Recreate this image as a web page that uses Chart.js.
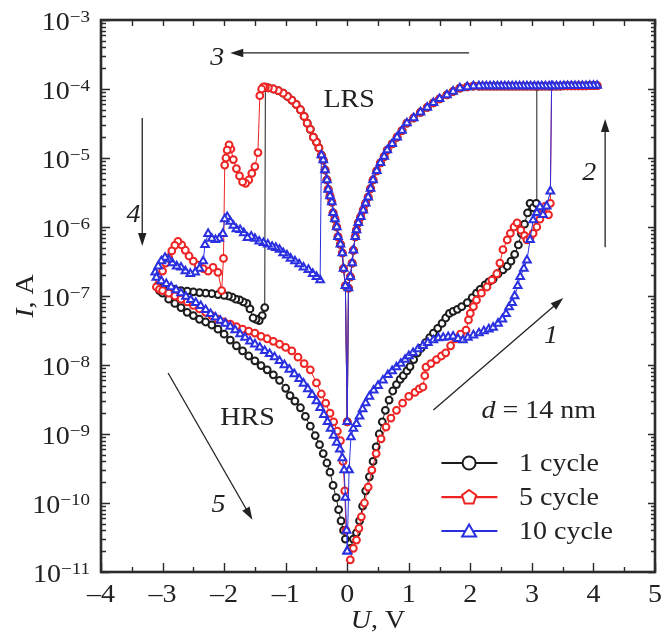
<!DOCTYPE html>
<html><head><meta charset="utf-8">
<script src="https://cdn.jsdelivr.net/npm/chart.js@4.4.1/dist/chart.umd.min.js"></script>
<style>html,body{margin:0;padding:0;background:#fff}canvas{display:block}
.pre{font-family:'Liberation Serif';position:absolute;left:-999px;top:0}</style>
</head><body>
<span class="pre">10 <i>I</i></span>
<canvas id="c" width="672" height="635"></canvas>
<script>
// ---------- data (U in V, I in A) ----------
const seriesNames = ['1 cycle', '5 cycle', '10 cycle'];
const xTickValues = [-4, -3, -2, -1, 0, 1, 2, 3, 4, 5];
const yTickExponents = [-3, -4, -5, -6, -7, -8, -9, -10, -11];

// forward HRS sweeps 0 -> set
const set1 = [[0.05,2.2e-11],[0.1,3e-11],[0.15,3.7e-11],[0.2,5.5e-11],[0.25,9e-11],[0.3,1.5e-10],[0.36,2.4e-10],[0.42,4e-10],[0.47,6.5e-10],[0.52,1e-9],[0.57,1.5e-9],[0.62,2.2e-9],[0.68,3.1e-9],[0.74,4.2e-9],[0.8,5.2e-9],[0.86,6.2e-9],[0.91,7e-9],[0.97,8.2e-9],[1.02,9.5e-9],[1.08,1.2e-8],[1.14,1.5e-8],[1.2,1.75e-8],[1.27,2.1e-8],[1.34,2.5e-8],[1.4,2.9e-8],[1.47,3.4e-8],[1.54,4e-8],[1.6,4.8e-8],[1.66,5.6e-8],[1.72,6e-8],[1.79,6.4e-8],[1.86,7e-8],[1.95,8e-8],[2.03,9.5e-8],[2.1,1.1e-7],[2.16,1.25e-7],[2.24,1.45e-7],[2.3,1.6e-7],[2.37,1.75e-7],[2.45,2.1e-7],[2.53,2.4e-7],[2.6,2.7e-7],[2.66,3.2e-7],[2.72,4e-7],[2.78,5.5e-7],[2.83,8e-7],[2.88,1.1e-6],[2.93,1.6e-6],[2.97,2.2e-6],[3.02,1.9e-6],[3.07,2.2e-6],[3.08,1.1e-4]];
const set5 = [[0.05,1.5e-11],[0.1,2.2e-11],[0.15,2.9e-11],[0.19,4.3e-11],[0.23,6.3e-11],[0.28,1e-10],[0.34,1.7e-10],[0.4,3e-10],[0.47,5.2e-10],[0.55,8.5e-10],[0.63,1.26e-9],[0.71,1.7e-9],[0.8,2.2e-9],[0.9,2.8e-9],[1.0,3.5e-9],[1.1,4e-9],[1.17,4.5e-9],[1.23,4.8e-9],[1.26,7e-9],[1.28,9.3e-9],[1.36,1.05e-8],[1.45,1.2e-8],[1.53,1.35e-8],[1.6,1.5e-8],[1.68,1.9e-8],[1.76,2.4e-8],[1.84,2.8e-8],[1.93,3.2e-8],[1.97,4.5e-8],[2.0,5.6e-8],[2.05,7e-8],[2.1,8.7e-8],[2.18,1.1e-7],[2.27,1.35e-7],[2.35,1.7e-7],[2.43,2.1e-7],[2.48,3e-7],[2.53,4.7e-7],[2.6,6.5e-7],[2.65,8.1e-7],[2.71,1e-6],[2.76,1.15e-6],[2.82,9e-7],[2.88,7.5e-7],[2.92,6.5e-7],[2.97,7e-7],[3.02,8.1e-7],[3.08,1e-6],[3.13,1.3e-6],[3.18,1.6e-6],[3.22,2e-6],[3.27,1.5e-6],[3.3,2.2e-6],[3.32,1.1e-4]];
const set10 = [[0.0,2e-11],[0.03,3e-10],[0.06,9e-10],[0.1,1.2e-9],[0.15,1.4e-9],[0.2,1.8e-9],[0.25,2.3e-9],[0.3,2.8e-9],[0.36,3.5e-9],[0.43,4.3e-9],[0.5,5e-9],[0.58,6e-9],[0.66,7.2e-9],[0.73,8.2e-9],[0.8,9.3e-9],[0.87,1.05e-8],[0.94,1.2e-8],[1.0,1.35e-8],[1.07,1.5e-8],[1.15,1.7e-8],[1.23,1.9e-8],[1.31,2.1e-8],[1.4,2.3e-8],[1.48,2.45e-8],[1.56,2.5e-8],[1.64,2.55e-8],[1.72,2.6e-8],[1.8,2.4e-8],[1.88,2.3e-8],[1.96,2.5e-8],[2.05,2.7e-8],[2.14,2.9e-8],[2.22,3.1e-8],[2.3,3.3e-8],[2.37,3.5e-8],[2.45,4e-8],[2.52,4.6e-8],[2.58,5.5e-8],[2.63,6.9e-8],[2.68,8e-8],[2.72,1e-7],[2.77,1.4e-7],[2.81,1.9e-7],[2.87,2.5e-7],[2.92,3.3e-7],[2.97,6.5e-7],[3.02,1.26e-6],[3.08,1.6e-6],[3.13,1.95e-6],[3.18,1.5e-6],[3.24,2e-6],[3.3,3.3e-6],[3.32,1.1e-4]];

// LRS (shared by the cycles, curves coincide)
const lrsPlateau = [[4.06,1.12e-4],[4.0,1.12e-4],[3.94,1.12e-4],[3.88,1.11e-4],[3.82,1.11e-4],[3.76,1.11e-4],[3.7,1.11e-4],[3.64,1.11e-4],[3.58,1.11e-4],[3.52,1.11e-4],[3.46,1.1e-4],[3.4,1.1e-4],[3.34,1.1e-4],[3.28,1.1e-4],[3.22,1.1e-4],[3.16,1.1e-4],[3.1,1.1e-4],[3.04,1.1e-4],[2.98,1.1e-4],[2.92,1.1e-4],[2.86,1.1e-4],[2.8,1.1e-4],[2.74,1.1e-4],[2.68,1.1e-4],[2.62,1.1e-4],[2.56,1.1e-4],[2.5,1.1e-4],[2.44,1.1e-4],[2.38,1.1e-4],[2.32,1.1e-4],[2.26,1.1e-4],[2.2,1.1e-4],[2.14,1.1e-4]];
const lrsPositive = [[2.05,1.1e-4],[1.95,1.07e-4],[1.83,1.03e-4],[1.72,9.2e-5],[1.62,8.2e-5],[1.5,7.2e-5],[1.4,6.3e-5],[1.3,5.4e-5],[1.19,4.6e-5],[1.08,3.8e-5],[0.97,3.2e-5],[0.89,2.5e-5],[0.81,2e-5],[0.73,1.6e-5],[0.65,1.3e-5],[0.6,1.05e-5],[0.54,8.5e-6],[0.48,6.5e-6],[0.42,4.8e-6],[0.38,3.6e-6],[0.34,2.7e-6],[0.3,2.2e-6],[0.26,1.75e-6],[0.22,1.4e-6],[0.18,1.15e-6],[0.15,9e-7],[0.13,7.2e-7],[0.1,4.6e-7],[0.08,3e-7],[0.05,1.9e-7],[0.02,1.3e-7],[0.0,1.5e-9]];
const lrsNegative = [[-0.03,1.4e-7],[-0.06,2.5e-7],[-0.08,4.2e-7],[-0.11,5.6e-7],[-0.15,7.2e-7],[-0.17,1e-6],[-0.2,1.3e-6],[-0.23,1.6e-6],[-0.25,2.3e-6],[-0.28,2.8e-6],[-0.31,3.5e-6],[-0.33,4.8e-6],[-0.36,6.7e-6],[-0.39,9.3e-6],[-0.42,1.1e-5]];
const lrsNegativeHigh = [[-0.46,1.4e-5],[-0.5,1.7e-5],[-0.55,2e-5],[-0.6,2.6e-5],[-0.65,3.2e-5],[-0.7,4e-5],[-0.76,5e-5],[-0.83,6e-5],[-0.9,6.9e-5],[-0.97,7.8e-5],[-1.04,8.7e-5],[-1.12,9.5e-5],[-1.2,1e-4],[-1.28,1.04e-4]];

// reset and HRS outward sweeps
const reset1 = [[-1.33,1.06e-4],[-1.34,6.8e-8],[-1.38,5.2e-8],[-1.43,4.4e-8],[-1.48,4.6e-8],[-1.53,4.8e-8],[-1.58,6.5e-8],[-1.63,7.8e-8],[-1.69,8.2e-8],[-1.75,8.8e-8],[-1.81,9e-8],[-1.87,9.6e-8],[-1.93,1e-7],[-2.0,1.02e-7],[-2.1,1.05e-7],[-2.2,1.08e-7],[-2.3,1.1e-7],[-2.4,1.12e-7],[-2.5,1.15e-7],[-2.6,1.18e-7],[-2.7,1.2e-7],[-2.8,1.25e-7],[-2.9,1.3e-7],[-3.0,1.35e-7],[-3.08,1.4e-7]];
const reset5 = [[-1.33,1.06e-4],[-1.36,1.07e-4],[-1.39,1.0e-4],[-1.42,8e-5],[-1.45,1.2e-5],[-1.5,7.5e-6],[-1.55,6e-6],[-1.6,4.8e-6],[-1.65,4.3e-6],[-1.7,4.5e-6],[-1.75,5.5e-6],[-1.8,7e-6],[-1.85,9.5e-6],[-1.89,1.35e-5],[-1.92,1.55e-5],[-1.95,1.3e-5],[-1.97,1e-5],[-1.99,7.9e-6],[-2.01,3.5e-7],[-2.04,1.2e-7],[-2.1,2.2e-7],[-2.18,2.6e-7],[-2.26,2.3e-7],[-2.34,2.5e-7],[-2.42,2.8e-7],[-2.5,3.2e-7],[-2.57,3.8e-7],[-2.63,4.6e-7],[-2.69,5.5e-7],[-2.75,6.2e-7],[-2.8,5.4e-7],[-2.85,4.5e-7],[-2.9,3.6e-7],[-2.95,3e-7],[-3.0,2.3e-7],[-3.05,1.7e-7],[-3.1,1.35e-7]];
const reset10 = [[-0.44,1.7e-7],[-0.5,1.9e-7],[-0.56,2.1e-7],[-0.63,2.4e-7],[-0.71,2.6e-7],[-0.78,2.9e-7],[-0.85,3.2e-7],[-0.92,3.5e-7],[-0.98,3.9e-7],[-1.04,4.2e-7],[-1.1,4.7e-7],[-1.16,5e-7],[-1.22,5.2e-7],[-1.29,5.6e-7],[-1.36,5.9e-7],[-1.43,6.2e-7],[-1.5,6.8e-7],[-1.56,7.3e-7],[-1.62,7e-7],[-1.68,8.2e-7],[-1.74,9.1e-7],[-1.8,9.3e-7],[-1.85,1.05e-6],[-1.9,1.2e-6],[-1.95,1.4e-6],[-1.99,1.3e-6],[-2.02,8e-7],[-2.08,6.8e-7],[-2.14,6.5e-7],[-2.2,6.8e-7],[-2.26,8e-7],[-2.31,5.5e-7],[-2.34,3.2e-7],[-2.4,2.5e-7],[-2.47,2.2e-7],[-2.55,2.1e-7],[-2.63,2.3e-7],[-2.7,2.6e-7],[-2.77,2.7e-7],[-2.84,3e-7],[-2.9,3.4e-7],[-2.96,3.6e-7],[-3.02,3.2e-7],[-3.07,2.7e-7],[-3.12,2.2e-7]];

// HRS return sweeps -3 -> 0
const return1 = [[-3.05,1.2e-7],[-3.0,1.1e-7],[-2.9,9e-8],[-2.8,7.8e-8],[-2.7,6.8e-8],[-2.6,5.8e-8],[-2.5,5.2e-8],[-2.4,4.6e-8],[-2.3,4.2e-8],[-2.2,3.8e-8],[-2.1,3.3e-8],[-2.0,2.8e-8],[-1.9,2.3e-8],[-1.8,1.9e-8],[-1.7,1.6e-8],[-1.6,1.35e-8],[-1.5,1.15e-8],[-1.4,9.8e-9],[-1.3,8.5e-9],[-1.2,7.2e-9],[-1.1,6e-9],[-1.0,4.6e-9],[-0.93,3.6e-9],[-0.85,3e-9],[-0.76,2.4e-9],[-0.68,1.8e-9],[-0.6,1.3e-9],[-0.52,9.5e-10],[-0.45,7e-10],[-0.39,5.2e-10],[-0.33,3.8e-10],[-0.28,2.8e-10],[-0.23,1.8e-10],[-0.18,1.2e-10],[-0.14,8e-11],[-0.1,5.5e-11],[-0.06,4e-11],[-0.03,3e-11]];
const return5 = [[-3.05,1.25e-7],[-3.0,1.2e-7],[-2.9,1.1e-7],[-2.8,1.0e-7],[-2.7,9e-8],[-2.6,8.2e-8],[-2.5,7.3e-8],[-2.4,6.5e-8],[-2.3,5.8e-8],[-2.2,5.2e-8],[-2.1,4.6e-8],[-2.0,4.2e-8],[-1.9,3.9e-8],[-1.8,3.6e-8],[-1.7,3.3e-8],[-1.6,3.1e-8],[-1.5,2.9e-8],[-1.4,2.6e-8],[-1.3,2.4e-8],[-1.2,2.2e-8],[-1.1,2e-8],[-1.0,1.8e-8],[-0.9,1.6e-8],[-0.8,1.3e-8],[-0.7,1.05e-8],[-0.6,8.5e-9],[-0.5,5.5e-9],[-0.42,3.8e-9],[-0.35,2.8e-9],[-0.28,2e-9],[-0.22,1.5e-9],[-0.16,1.1e-9],[-0.11,8e-10],[-0.07,4e-10],[-0.04,1.5e-10],[-0.02,4e-11]];
const return10 = [[-3.1,1.85e-7],[-3.02,1.65e-7],[-2.94,1.5e-7],[-2.86,1.35e-7],[-2.78,1.22e-7],[-2.7,1.1e-7],[-2.62,9.8e-8],[-2.54,8.8e-8],[-2.46,8e-8],[-2.38,7.2e-8],[-2.3,6.3e-8],[-2.22,5.5e-8],[-2.14,4.9e-8],[-2.06,4.4e-8],[-1.98,4e-8],[-1.9,3.6e-8],[-1.82,3.2e-8],[-1.74,2.8e-8],[-1.66,2.5e-8],[-1.58,2.2e-8],[-1.5,2e-8],[-1.42,1.8e-8],[-1.34,1.6e-8],[-1.26,1.45e-8],[-1.18,1.3e-8],[-1.1,1.15e-8],[-1.02,1e-8],[-0.94,8.6e-9],[-0.86,7.4e-9],[-0.78,6.3e-9],[-0.71,5.4e-9],[-0.64,4.5e-9],[-0.57,3.7e-9],[-0.5,3e-9],[-0.44,2.4e-9],[-0.38,1.9e-9],[-0.32,1.5e-9],[-0.27,1.2e-9],[-0.22,9.5e-10],[-0.17,7.5e-10],[-0.12,6e-10],[-0.08,4.5e-10],[-0.05,3e-10],[-0.03,1.2e-10],[-0.01,4e-11],[0.0,2e-11]];

const cycle1 = [...set1, ...lrsPlateau, ...lrsPositive, ...lrsNegative, ...lrsNegativeHigh, ...reset1, ...return1];
const cycle5 = [...set5, ...lrsPlateau, ...lrsPositive, ...lrsNegative, ...lrsNegativeHigh, ...reset5, ...return5];
const cycle10 = [...set10, ...lrsPlateau, ...lrsPositive, ...lrsNegative, ...reset10, ...return10];

// ---------- styling ----------
const COLORS = ['#1c1c1c', '#ee2424', '#2a30e0'];
const SHAPES = ['circle', 'pentagon', 'triangle'];
const SERIF = '"Liberation Serif", serif';
const SX = 1.12; // horizontal stretch of the original typesetting
const TXT = '#222';

const toXY = arr => arr.map(([x, y]) => ({ x, y }));

function ds(label, arr, color, style, order) {
  return {
    label, data: toXY(arr), showLine: true, order,
    borderColor: color, borderWidth: 1,
    pointStyle: style, pointRadius: style === 'triangle' ? 4.4 : 3.4,
    pointBorderWidth: 2, pointBorderColor: color, pointBackgroundColor: '#fff',
    pointHoverRadius: 3.4
  };
}

function drawRuns(ctx, parts, x, y, align) {
  let total = 0;
  parts.forEach(p => { ctx.font = p[1]; total += ctx.measureText(p[0]).width * SX; });
  let cx = align === 'center' ? x - total / 2 : align === 'right' ? x - total : x;
  parts.forEach(p => {
    ctx.font = p[1];
    const w = ctx.measureText(p[0]).width * SX;
    ctx.save();
    ctx.translate(cx, y + (p[2] || 0));
    ctx.scale(SX, 1);
    ctx.textAlign = 'left'; ctx.textBaseline = 'alphabetic';
    ctx.fillText(p[0], 0, 0);
    ctx.restore();
    cx += w;
  });
}

function arrow(ctx, x1, y1, x2, y2) {
  const a = Math.atan2(y2 - y1, x2 - x1), L = 13, W = 4.2;
  ctx.beginPath(); ctx.moveTo(x1, y1);
  ctx.lineTo(x2 - L * 0.7 * Math.cos(a), y2 - L * 0.7 * Math.sin(a)); ctx.stroke();
  ctx.beginPath(); ctx.moveTo(x2, y2);
  ctx.lineTo(x2 - L * Math.cos(a) + W * Math.sin(a), y2 - L * Math.sin(a) - W * Math.cos(a));
  ctx.lineTo(x2 - L * Math.cos(a) - W * Math.sin(a), y2 - L * Math.sin(a) + W * Math.cos(a));
  ctx.closePath(); ctx.fill();
}

function marker(ctx, shape, cx, cy, color) {
  ctx.save();
  ctx.strokeStyle = color; ctx.fillStyle = '#fff'; ctx.lineWidth = 2;
  ctx.beginPath();
  if (shape === 'circle') {
    ctx.arc(cx, cy, 6.5, 0, Math.PI * 2);
  } else {
    const n = shape === 'pentagon' ? 5 : 3, r = shape === 'pentagon' ? 7.5 : 8;
    const oy = shape === 'triangle' ? 1.5 : 0.5;
    for (let i = 0; i < n; i++) {
      const t = -Math.PI / 2 + i * 2 * Math.PI / n;
      const px = cx + r * Math.cos(t), py = cy + oy + r * Math.sin(t);
      i ? ctx.lineTo(px, py) : ctx.moveTo(px, py);
    }
    ctx.closePath();
  }
  ctx.fill(); ctx.stroke();
  ctx.restore();
}

// annotation texts: [parts, U, I(baseline), align]
const notes = [
  [[['3', 'italic 25px ' + SERIF]], -2.11, 2.23e-4, 'center'],
  [[['LRS', '25px ' + SERIF]], 0.03, 5.5e-5, 'center'],
  [[['2', 'italic 25px ' + SERIF]], 3.93, 4.8e-6, 'center'],
  [[['4', 'italic 25px ' + SERIF]], -3.47, 1.18e-6, 'center'],
  [[['1', 'italic 25px ' + SERIF]], 3.31, 2.08e-8, 'center'],
  [[['HRS', '25px ' + SERIF]], -1.62, 1.35e-9, 'center'],
  [[['5', 'italic 25px ' + SERIF]], -2.09, 7.4e-11, 'center'],
  [[['d', 'italic 25px ' + SERIF], [' = 14 nm', '25px ' + SERIF]], 2.18, 1.7e-9, 'left']
];
// arrows: [U1, I1, U2, I2] (tail -> head)
const arrows = [
  [1.98, 3.33e-4, -1.90, 3.33e-4],
  [4.19, 5.1e-7, 4.19, 3.67e-5],
  [-3.33, 3.8e-5, -3.33, 5.3e-7],
  [1.40, 2.23e-9, 3.51, 9.35e-8],
  [-2.91, 7.66e-9, -1.54, 5.7e-11]
];
// legend rows: line from U 1.53 to 2.44, text from 2.79
const legendRowsI = [3.8e-10, 1.22e-10, 3.93e-11];

const decor = {
  id: 'decor',
  afterDraw(chart) {
    const { ctx, chartArea: a, scales: { x, y } } = chart;
    ctx.save();
    ctx.strokeStyle = '#2b2b2b'; ctx.fillStyle = TXT;
    // ticks
    ctx.lineWidth = 1.4;
    ctx.beginPath();
    for (let v = -4; v <= 5.001; v += 0.5) {
      const px = Math.round(x.getPixelForValue(v)) + 0.5;
      const major = Math.abs(v - Math.round(v)) < 1e-6;
      ctx.moveTo(px, a.bottom); ctx.lineTo(px, a.bottom - (major ? 9 : 5));
      ctx.moveTo(px, a.top); ctx.lineTo(px, a.top + 6);
    }
    for (let e = -11; e <= -3; e++) {
      for (let m = 1; m <= 9; m++) {
        if (e === -3 && m > 1) break;
        const py = Math.round(y.getPixelForValue(m * Math.pow(10, e))) + 0.5;
        const len = m === 1 ? 9 : 5;
        ctx.moveTo(a.left, py); ctx.lineTo(a.left + len, py);
        ctx.moveTo(a.right, py); ctx.lineTo(a.right - (m === 1 ? 7 : 4), py);
      }
    }
    ctx.stroke();
    // frame
    ctx.lineWidth = 2.6;
    ctx.strokeRect(a.left, a.top, a.right - a.left, a.bottom - a.top);

    // x tick labels
    xTickValues.forEach(v => {
      const s = v < 0 ? '\u2013' + Math.abs(v) : String(v);
      drawRuns(ctx, [[s, '25px ' + SERIF]], x.getPixelForValue(v), a.bottom + 30, 'center');
    });
    // y tick labels
    yTickExponents.forEach(e => {
      const py = y.getPixelForValue(Math.pow(10, e));
      drawRuns(ctx, [['10', '25px ' + SERIF, 10], ['\u2212' + Math.abs(e), '17px ' + SERIF, 2]], a.left - 11, py, 'right');
    });
    // axis titles
    drawRuns(ctx, [['U', 'italic 25px ' + SERIF], [', V', '25px ' + SERIF]], (a.left + a.right) / 2, a.bottom + 56, 'center');
    ctx.save();
    ctx.translate(a.left - 68, (a.top + a.bottom) / 2);
    ctx.rotate(-Math.PI / 2);
    drawRuns(ctx, [['I', 'italic 25px ' + SERIF], [', A', '25px ' + SERIF]], 0, 0, 'center');
    ctx.restore();

    // annotation texts
    notes.forEach(n => drawRuns(ctx, n[0], x.getPixelForValue(n[1]), y.getPixelForValue(n[2]), n[3]));
    // arrows
    ctx.lineWidth = 1.3; ctx.fillStyle = '#222'; ctx.strokeStyle = '#222';
    arrows.forEach(r => arrow(ctx, x.getPixelForValue(r[0]), y.getPixelForValue(r[1]), x.getPixelForValue(r[2]), y.getPixelForValue(r[3])));

    // legend
    seriesNames.forEach((name, i) => {
      const py = y.getPixelForValue(legendRowsI[i]);
      const x1 = x.getPixelForValue(1.53), x2 = x.getPixelForValue(2.44), xm = x.getPixelForValue(1.98);
      ctx.save();
      ctx.strokeStyle = COLORS[i]; ctx.lineWidth = 2.2;
      ctx.beginPath(); ctx.moveTo(x1, py); ctx.lineTo(x2, py); ctx.stroke();
      ctx.restore();
      marker(ctx, SHAPES[i], xm, py, COLORS[i]);
      ctx.fillStyle = TXT;
      drawRuns(ctx, [[name, '25px ' + SERIF]], x.getPixelForValue(2.79), py + 8, 'left');
    });
    ctx.restore();
  }
};

function build() {
  new Chart(document.getElementById('c'), {
    type: 'scatter',
    data: {
      datasets: [
        ds(seriesNames[0], cycle1, COLORS[0], 'circle', 2),
        ds(seriesNames[1], cycle5, COLORS[1], 'circle', 1),
        ds(seriesNames[2], cycle10, COLORS[2], 'triangle', 0)
      ]
    },
    options: {
      responsive: false,
      animation: false,
      devicePixelRatio: 1,
      layout: { padding: { top: 20, right: 17, left: 0, bottom: 0 } },
      plugins: { legend: { display: false }, tooltip: { enabled: false } },
      events: [],
      scales: {
        x: {
          type: 'linear', min: -4, max: 5,
          grid: { display: false }, border: { display: false },
          ticks: { display: false },
          afterFit(s) { s.height = 63; }
        },
        y: {
          type: 'logarithmic', min: 1e-11, max: 1e-3,
          grid: { display: false }, border: { display: false },
          ticks: { display: false },
          afterFit(s) { s.width = 101; }
        }
      }
    },
    plugins: [decor]
  });
}

Promise.all([
  document.fonts.load('25px "Liberation Serif"'),
  document.fonts.load('italic 25px "Liberation Serif"'),
  document.fonts.load('17px "Liberation Serif"')
]).then(build, build);
</script>
</body></html>
